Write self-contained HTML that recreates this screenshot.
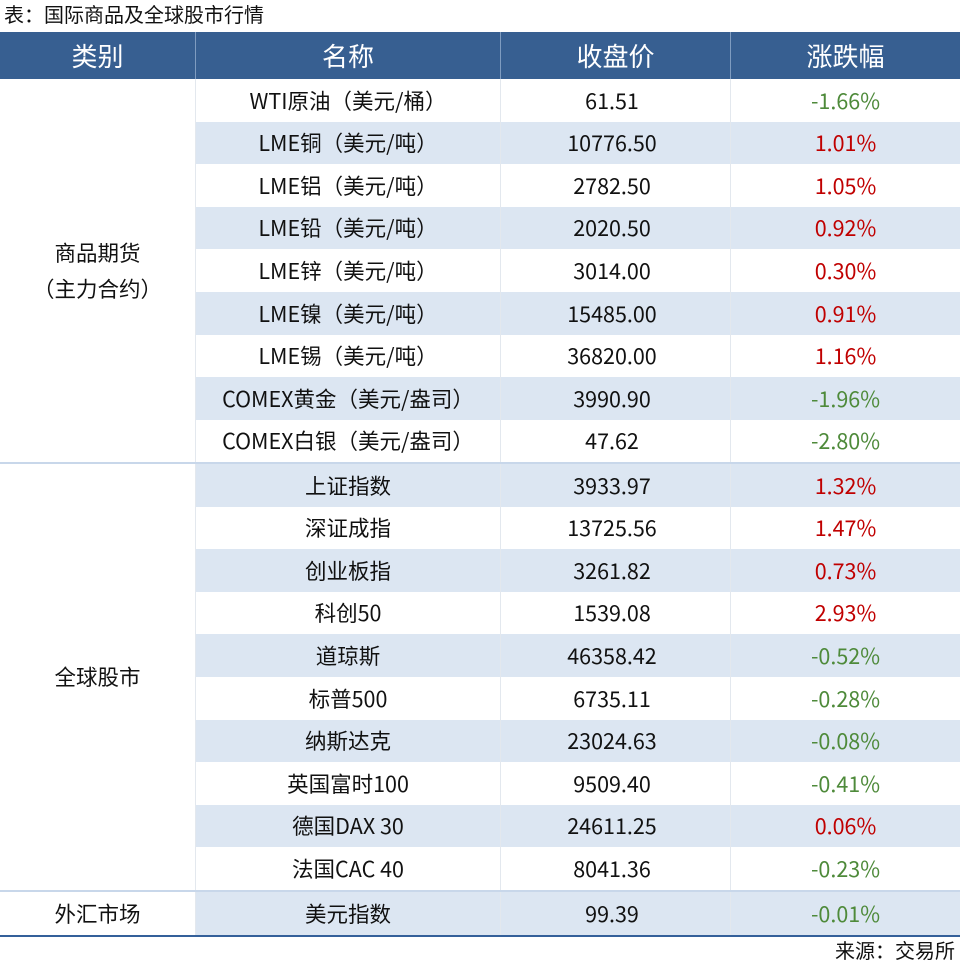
<!DOCTYPE html><html><head><meta charset="utf-8"><style>
body{margin:0;width:960px;height:969px;background:#fff;font-family:"Noto Sans CJK SC","Liberation Sans",sans-serif;position:relative;overflow:hidden}
div{position:absolute;box-sizing:border-box}
.t{font-size:21.5px;color:#111;text-align:center;display:flex;align-items:center;justify-content:center;line-height:1}
.h{color:#fff;font-size:26px}
.g{color:#4e8a3a}.r{color:#c00000}
</style></head><body>
<div style="left:4px;top:3px;font-size:20px;color:#111;line-height:1.1">表：国际商品及全球股市行情</div>
<div style="left:0;top:32px;width:960px;height:47px;background:#375f91"></div>
<div class="t h" style="left:0;top:32px;width:195px;height:47px">类别</div>
<div class="t h" style="left:196px;top:32px;width:304px;height:47px">名称</div>
<div class="t h" style="left:501px;top:32px;width:229px;height:47px">收盘价</div>
<div class="t h" style="left:731px;top:32px;width:229px;height:47px">涨跌幅</div>
<div style="left:195px;top:32px;width:1px;height:47px;background:#7f9cc0"></div>
<div style="left:500px;top:32px;width:1px;height:47px;background:#7f9cc0"></div>
<div style="left:730px;top:32px;width:1px;height:47px;background:#7f9cc0"></div>
<div id="rows"></div>
<div style="left:0;top:462px;width:960px;height:2px;background:#c8d7ea"></div>
<div style="left:0;top:890px;width:960px;height:2px;background:#c8d7ea"></div>
<div style="left:0;top:935px;width:960px;height:2px;background:#34609a"></div>
<div class="t" style="left:0;top:79px;width:195px;height:383px;line-height:36px;flex-direction:column">商品期货<br>（主力合约）</div>
<div class="t" style="left:0;top:464px;width:195px;height:426px">全球股市</div>
<div class="t" style="left:0;top:892px;width:195px;height:43px">外汇市场</div>
<div style="right:5px;top:939px;font-size:20px;color:#111;line-height:1.1">来源：交易所</div>
<script>
var d=[
[79,[["WTI原油（美元/桶）","61.51","-1.66%"],["LME铜（美元/吨）","10776.50","1.01%"],["LME铝（美元/吨）","2782.50","1.05%"],["LME铅（美元/吨）","2020.50","0.92%"],["LME锌（美元/吨）","3014.00","0.30%"],["LME镍（美元/吨）","15485.00","0.91%"],["LME锡（美元/吨）","36820.00","1.16%"],["COMEX黄金（美元/盎司）","3990.90","-1.96%"],["COMEX白银（美元/盎司）","47.62","-2.80%"]],1],
[464,[["上证指数","3933.97","1.32%"],["深证成指","13725.56","1.47%"],["创业板指","3261.82","0.73%"],["科创50","1539.08","2.93%"],["道琼斯","46358.42","-0.52%"],["标普500","6735.11","-0.28%"],["纳斯达克","23024.63","-0.08%"],["英国富时100","9509.40","-0.41%"],["德国DAX 30","24611.25","0.06%"],["法国CAC 40","8041.36","-0.23%"]],0],
[892,[["美元指数","99.39","-0.01%"]],0]];
var h="";
d.forEach(function(s){var y0=s[0];s[1].forEach(function(r,i){var y=y0+i*42.6;var bg=(i%2==s[2])?"#dce6f2":"#fff";
h+='<div style="left:196px;top:'+y+'px;width:764px;height:42.6px;background:'+bg+'"></div>';
h+='<div class="t" style="left:196px;top:'+y+'px;width:304px;height:42.6px">'+r[0]+'</div>';
h+='<div class="t" style="left:501px;top:'+y+'px;width:222px;height:42.6px">'+r[1]+'</div>';
h+='<div class="t '+(r[2][0]=="-"?"g":"r")+'" style="left:731px;top:'+y+'px;width:229px;height:42.6px">'+r[2]+'</div>';});});
h+='<div style="left:195px;top:79px;width:1px;height:856px;background:#e3e8ee"></div><div style="left:500px;top:79px;width:1px;height:856px;background:#e3e8ee"></div><div style="left:730px;top:79px;width:1px;height:856px;background:#e3e8ee"></div>';
document.getElementById("rows").outerHTML=h;
</script>
</body></html>
